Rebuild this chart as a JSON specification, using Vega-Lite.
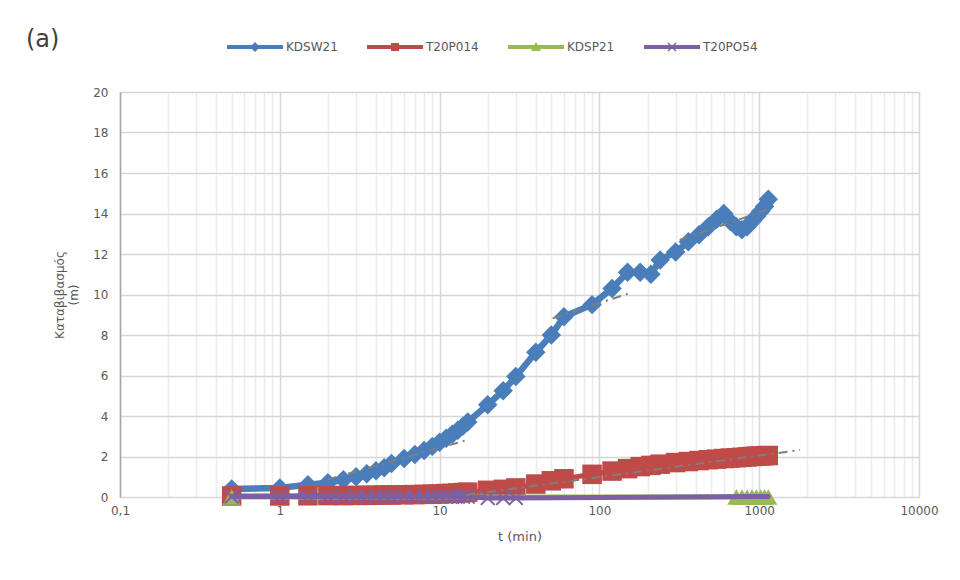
{
  "$schema": "https://vega.github.io/schema/vega-lite/v6.json",
  "autosize": "none",
  "width": 799,
  "height": 405,
  "padding": {"left": 120, "top": 92, "right": 41, "bottom": 83},
  "background": "white",
  "title": {"text": "(a)", "anchor": "start", "frame": "group", "dx": -94, "offset": -15, "fontSize": 24, "font": "DejaVu Sans", "fontWeight": "normal", "color": "#404040"},
  "config": {"view": {"stroke": null}, "font": "DejaVu Sans"},
  "datasets": {
    "obs": [
      {"series": "KDSW21", "t": 0.5, "s": 0.4}, {"series": "KDSW21", "t": 1, "s": 0.45}, {"series": "KDSW21", "t": 1.5, "s": 0.6}, {"series": "KDSW21", "t": 2, "s": 0.7}, {"series": "KDSW21", "t": 2.5, "s": 0.85}, {"series": "KDSW21", "t": 3, "s": 1.0}, {"series": "KDSW21", "t": 3.5, "s": 1.15}, {"series": "KDSW21", "t": 4, "s": 1.3}, {"series": "KDSW21", "t": 4.5, "s": 1.45}, {"series": "KDSW21", "t": 5, "s": 1.65}, {"series": "KDSW21", "t": 6, "s": 1.9}, {"series": "KDSW21", "t": 7, "s": 2.1}, {"series": "KDSW21", "t": 8, "s": 2.3}, {"series": "KDSW21", "t": 9, "s": 2.5}, {"series": "KDSW21", "t": 10, "s": 2.7}, {"series": "KDSW21", "t": 11, "s": 2.9}, {"series": "KDSW21", "t": 12, "s": 3.1}, {"series": "KDSW21", "t": 13, "s": 3.3}, {"series": "KDSW21", "t": 14, "s": 3.5}, {"series": "KDSW21", "t": 15, "s": 3.7}, {"series": "KDSW21", "t": 20, "s": 4.55}, {"series": "KDSW21", "t": 25, "s": 5.25}, {"series": "KDSW21", "t": 30, "s": 5.95}, {"series": "KDSW21", "t": 40, "s": 7.15}, {"series": "KDSW21", "t": 50, "s": 8.0}, {"series": "KDSW21", "t": 60, "s": 8.9}, {"series": "KDSW21", "t": 90, "s": 9.5}, {"series": "KDSW21", "t": 120, "s": 10.3}, {"series": "KDSW21", "t": 150, "s": 11.1}, {"series": "KDSW21", "t": 180, "s": 11.1}, {"series": "KDSW21", "t": 210, "s": 11.0}, {"series": "KDSW21", "t": 240, "s": 11.7}, {"series": "KDSW21", "t": 300, "s": 12.1}, {"series": "KDSW21", "t": 360, "s": 12.6}, {"series": "KDSW21", "t": 420, "s": 12.95}, {"series": "KDSW21", "t": 480, "s": 13.35}, {"series": "KDSW21", "t": 540, "s": 13.7}, {"series": "KDSW21", "t": 600, "s": 14.0}, {"series": "KDSW21", "t": 660, "s": 13.6}, {"series": "KDSW21", "t": 720, "s": 13.35}, {"series": "KDSW21", "t": 780, "s": 13.2}, {"series": "KDSW21", "t": 840, "s": 13.35}, {"series": "KDSW21", "t": 900, "s": 13.6}, {"series": "KDSW21", "t": 960, "s": 13.85}, {"series": "KDSW21", "t": 1020, "s": 14.1}, {"series": "KDSW21", "t": 1080, "s": 14.35}, {"series": "KDSW21", "t": 1140, "s": 14.7},
      {"series": "T20P014", "t": 0.5, "s": 0.05}, {"series": "T20P014", "t": 1, "s": 0.05}, {"series": "T20P014", "t": 1.5, "s": 0.06}, {"series": "T20P014", "t": 2, "s": 0.07}, {"series": "T20P014", "t": 2.5, "s": 0.07}, {"series": "T20P014", "t": 3, "s": 0.08}, {"series": "T20P014", "t": 3.5, "s": 0.08}, {"series": "T20P014", "t": 4, "s": 0.09}, {"series": "T20P014", "t": 4.5, "s": 0.1}, {"series": "T20P014", "t": 5, "s": 0.1}, {"series": "T20P014", "t": 6, "s": 0.11}, {"series": "T20P014", "t": 7, "s": 0.12}, {"series": "T20P014", "t": 8, "s": 0.13}, {"series": "T20P014", "t": 9, "s": 0.14}, {"series": "T20P014", "t": 10, "s": 0.15}, {"series": "T20P014", "t": 11, "s": 0.17}, {"series": "T20P014", "t": 12, "s": 0.18}, {"series": "T20P014", "t": 13, "s": 0.2}, {"series": "T20P014", "t": 14, "s": 0.22}, {"series": "T20P014", "t": 15, "s": 0.24}, {"series": "T20P014", "t": 20, "s": 0.33}, {"series": "T20P014", "t": 25, "s": 0.38}, {"series": "T20P014", "t": 30, "s": 0.45}, {"series": "T20P014", "t": 40, "s": 0.64}, {"series": "T20P014", "t": 50, "s": 0.8}, {"series": "T20P014", "t": 60, "s": 0.9}, {"series": "T20P014", "t": 90, "s": 1.12}, {"series": "T20P014", "t": 120, "s": 1.28}, {"series": "T20P014", "t": 150, "s": 1.4}, {"series": "T20P014", "t": 180, "s": 1.5}, {"series": "T20P014", "t": 210, "s": 1.56}, {"series": "T20P014", "t": 240, "s": 1.62}, {"series": "T20P014", "t": 300, "s": 1.7}, {"series": "T20P014", "t": 360, "s": 1.75}, {"series": "T20P014", "t": 420, "s": 1.8}, {"series": "T20P014", "t": 480, "s": 1.84}, {"series": "T20P014", "t": 540, "s": 1.87}, {"series": "T20P014", "t": 600, "s": 1.9}, {"series": "T20P014", "t": 660, "s": 1.92}, {"series": "T20P014", "t": 720, "s": 1.94}, {"series": "T20P014", "t": 780, "s": 1.96}, {"series": "T20P014", "t": 840, "s": 1.98}, {"series": "T20P014", "t": 900, "s": 2.0}, {"series": "T20P014", "t": 960, "s": 2.02}, {"series": "T20P014", "t": 1020, "s": 2.03}, {"series": "T20P014", "t": 1080, "s": 2.04}, {"series": "T20P014", "t": 1140, "s": 2.05},
      {"series": "KDSP21", "t": 0.5, "s": 0}, {"series": "KDSP21", "t": 720, "s": 0}, {"series": "KDSP21", "t": 780, "s": 0}, {"series": "KDSP21", "t": 840, "s": 0}, {"series": "KDSP21", "t": 900, "s": 0}, {"series": "KDSP21", "t": 960, "s": 0}, {"series": "KDSP21", "t": 1020, "s": 0}, {"series": "KDSP21", "t": 1080, "s": 0}, {"series": "KDSP21", "t": 1140, "s": 0},
      {"series": "T20PO54", "t": 0.5, "s": 0.02}, {"series": "T20PO54", "t": 1, "s": 0.02}, {"series": "T20PO54", "t": 1.5, "s": 0.02}, {"series": "T20PO54", "t": 2, "s": 0.02}, {"series": "T20PO54", "t": 2.5, "s": 0.02}, {"series": "T20PO54", "t": 3, "s": 0.02}, {"series": "T20PO54", "t": 3.5, "s": 0.02}, {"series": "T20PO54", "t": 4, "s": 0.02}, {"series": "T20PO54", "t": 4.5, "s": 0.02}, {"series": "T20PO54", "t": 5, "s": 0.02}, {"series": "T20PO54", "t": 6, "s": 0.02}, {"series": "T20PO54", "t": 7, "s": 0.02}, {"series": "T20PO54", "t": 8, "s": 0.02}, {"series": "T20PO54", "t": 9, "s": 0.02}, {"series": "T20PO54", "t": 10, "s": 0.02}, {"series": "T20PO54", "t": 11, "s": 0.02}, {"series": "T20PO54", "t": 12, "s": 0.02}, {"series": "T20PO54", "t": 13, "s": 0.02}, {"series": "T20PO54", "t": 14, "s": 0.02}, {"series": "T20PO54", "t": 15, "s": 0.02}, {"series": "T20PO54", "t": 20, "s": -0.05}, {"series": "T20PO54", "t": 25, "s": -0.05}, {"series": "T20PO54", "t": 30, "s": -0.05}, {"series": "T20PO54", "t": 1140, "s": 0.02}
    ],
    "trend": [
      {"seg": "A", "t": 2, "s": 0.87}, {"seg": "A", "t": 14.7, "s": 2.8},
      {"seg": "B", "t": 51, "s": 8.82}, {"seg": "B", "t": 155, "s": 10.07},
      {"seg": "C", "t": 318, "s": 12.7}, {"seg": "C", "t": 1110, "s": 14.17},
      {"seg": "D", "t": 14.7, "s": 0.1}, {"seg": "D", "t": 1800, "s": 2.32}
    ]
  },
  "encoding": {
    "x": {
      "field": "t", "type": "quantitative",
      "scale": {"type": "log", "domain": [0.1, 10000], "nice": false},
      "axis": {
        "title": "t (min)", "titleFontSize": 13, "titleFontWeight": "normal", "titleColor": "#595959", "titlePadding": 14,
        "values": [0.1,0.2,0.3,0.4,0.5,0.6,0.7,0.8,0.9,1,2,3,4,5,6,7,8,9,10,20,30,40,50,60,70,80,90,100,200,300,400,500,600,700,800,900,1000,2000,3000,4000,5000,6000,7000,8000,9000,10000],
        "labelExpr": "indexof([0.1,1,10,100,1000,10000], datum.value) >= 0 ? replace(toString(datum.value), '.', ',') : ''",
        "labelOverlap": false, "labelFlush": false, "labelFontSize": 12, "labelColor": "#595959", "labelPadding": 8,
        "ticks": false, "domainColor": "#d9d9d9",
        "grid": true,
        "gridColor": {"condition": {"test": "indexof([0.1,1,10,100,1000,10000], datum.value) >= 0", "value": "#d6d6d6"}, "value": "#ececec"},
        "gridWidth": 1.5
      }
    },
    "y": {
      "field": "s", "type": "quantitative",
      "scale": {"domain": [0, 20], "nice": false},
      "axis": {
        "title": ["Καταβιβασμός", "(m)"], "titleFontSize": 12, "titleFontWeight": "normal", "titleColor": "#595959", "titlePadding": 12,
        "values": [0,2,4,6,8,10,12,14,16,18,20],
        "labelFontSize": 12, "labelColor": "#595959", "labelPadding": 12,
        "ticks": false, "domainColor": "#a6a6a6", "domainWidth": 1.5,
        "gridColor": "#d6d6d6", "gridWidth": 1.5
      }
    }
  },
  "layer": [
    {"data": {"name": "obs"}, "transform": [{"filter": "datum.series == 'KDSW21'"}], "mark": {"type": "line", "color": "#4A7EBB", "strokeWidth": 6.5, "strokeCap": "round", "strokeJoin": "round"}},
    {"data": {"name": "obs"}, "transform": [{"filter": "datum.series == 'KDSW21'"}], "mark": {"type": "point", "shape": "diamond", "filled": true, "opacity": 1, "color": "#4A7EBB", "size": 380}},
    {"data": {"name": "obs"}, "transform": [{"filter": "datum.series == 'T20P014'"}], "mark": {"type": "line", "color": "#BE4B48", "strokeWidth": 5, "strokeCap": "round"}},
    {"data": {"name": "obs"}, "transform": [{"filter": "datum.series == 'T20P014'"}], "mark": {"type": "point", "shape": "square", "filled": true, "opacity": 1, "color": "#BE4B48", "size": 380}},
    {"data": {"name": "obs"}, "transform": [{"filter": "datum.series == 'KDSP21'"}], "mark": {"type": "line", "color": "#98B954", "strokeWidth": 5, "strokeCap": "round"}},
    {"data": {"name": "obs"}, "transform": [{"filter": "datum.series == 'KDSP21'"}], "mark": {"type": "point", "shape": "triangle-up", "filled": true, "opacity": 1, "color": "#98B954", "size": 330}},
    {"data": {"name": "obs"}, "transform": [{"filter": "datum.series == 'T20PO54'"}], "mark": {"type": "line", "color": "#7D60A0", "strokeWidth": 5, "strokeCap": "round"}},
    {"data": {"name": "obs"}, "transform": [{"filter": "datum.series == 'T20PO54' && datum.t <= 30"}], "mark": {"type": "point", "shape": "M-1,-1L1,1M-1,1L1,-1", "filled": false, "opacity": 1, "color": "#7D60A0", "strokeWidth": 2, "size": 190}},
    {"data": {"name": "trend"}, "mark": {"type": "line", "color": "#7f7f7f", "strokeWidth": 2, "strokeDash": [9, 5, 2, 5]}, "encoding": {"detail": {"field": "seg"}}},
    {"data": {"name": "obs"}, "transform": [{"filter": "datum.t < 0"}], "mark": {"type": "point", "filled": true, "opacity": 1},
     "encoding": {
       "color": {"field": "series", "type": "nominal",
         "scale": {"domain": ["KDSW21", "T20P014", "KDSP21", "T20PO54"], "range": ["#4A7EBB", "#BE4B48", "#98B954", "#7D60A0"]},
         "legend": {"orient": "none", "legendX": 97, "legendY": -55, "direction": "horizontal", "title": null, "symbolSize": 400, "symbolOffset": 28, "labelOffset": 21, "columnPadding": 19, "labelFont": "DejaVu Sans", "labelFontSize": 12, "labelColor": "#595959", "symbolStrokeWidth": 0, "padding": 0}},
       "shape": {"field": "series", "type": "nominal",
         "scale": {"domain": ["KDSW21", "T20P014", "KDSP21", "T20PO54"], "range": [
           "M-2.8,-0.2L2.8,-0.2L2.8,0.2L-2.8,0.2Z M0,-0.5L0.5,0L0,0.5L-0.5,0Z",
           "M-2.8,-0.2L2.8,-0.2L2.8,0.2L-2.8,0.2Z M-0.4,-0.4L0.4,-0.4L0.4,0.4L-0.4,0.4Z",
           "M-2.8,-0.2L2.8,-0.2L2.8,0.2L-2.8,0.2Z M0,-0.5L0.5,0.4L-0.5,0.4Z",
           "M-2.8,-0.2L2.8,-0.2L2.8,0.2L-2.8,0.2Z M-0.45,-0.35L-0.35,-0.45L0.45,0.35L0.35,0.45Z M0.35,-0.45L0.45,-0.35L-0.35,0.45L-0.45,0.35Z"
         ]},
         "legend": {"orient": "none", "legendX": 97, "legendY": -55, "direction": "horizontal", "title": null, "symbolSize": 400, "symbolOffset": 28, "labelOffset": 21, "columnPadding": 19, "labelFont": "DejaVu Sans", "labelFontSize": 12, "labelColor": "#595959", "symbolStrokeWidth": 0, "padding": 0}}
     }}
  ]
}
